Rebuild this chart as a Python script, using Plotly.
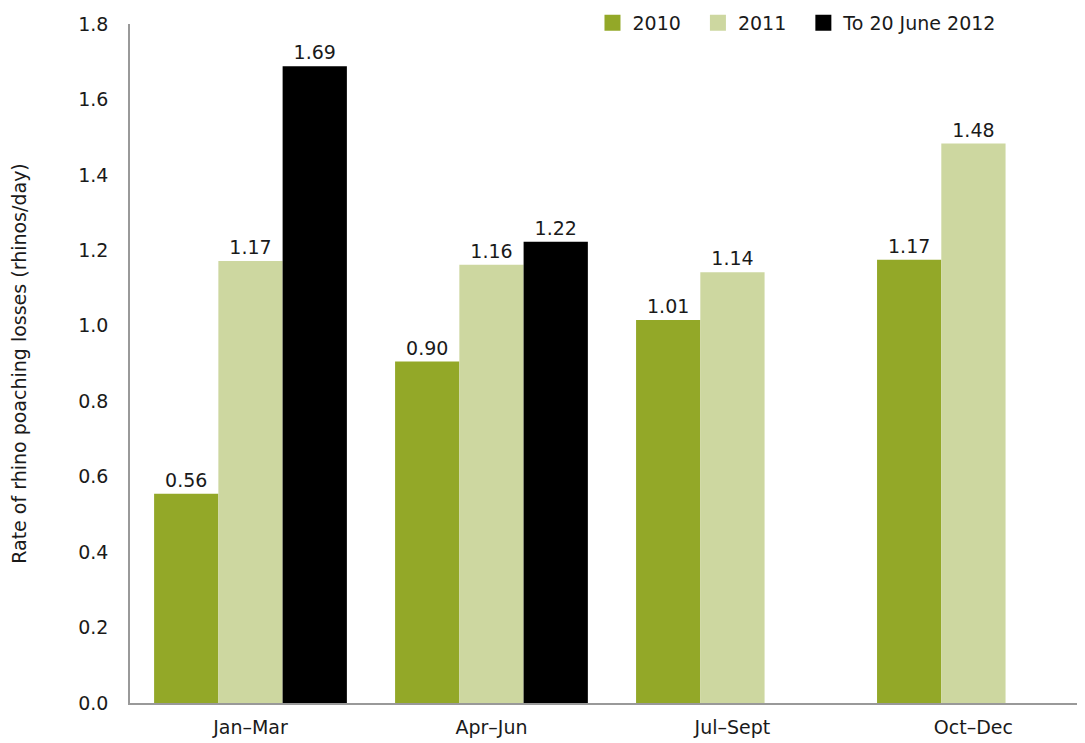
import plotly.graph_objects as go

categories = ["Jan–Mar", "Apr–Jun", "Jul–Sept", "Oct–Dec"]
series_names = ["2010", "2011", "To 20 June 2012"]
values_2010 = [0.555, 0.905, 1.015, 1.175]
values_2011 = [1.172, 1.162, 1.142, 1.483]
values_2012 = [1.688, 1.223, None, None]
labels_2010 = ["0.56", "0.90", "1.01", "1.17"]
labels_2011 = ["1.17", "1.16", "1.14", "1.48"]
labels_2012 = ["1.69", "1.22", "", ""]
colors = ["#93A828", "#CDD7A0", "#000000"]

font_family = "'DejaVu Sans', sans-serif"
text_color = "#1a1a1a"
fsize = 19
legend_pad = ["\u00a0\u00a0", "\u00a0\u00a0", ""]

fig = go.Figure()
for name, vals, labs, col in zip(series_names, [values_2010, values_2011, values_2012],
                                 [labels_2010, labels_2011, labels_2012], colors):
    fig.add_trace(go.Bar(
        x=categories, y=vals, name=name, marker=dict(color=col, line=dict(width=0)),
        text=labs, textposition="outside", cliponaxis=False, showlegend=False,
        textfont=dict(size=fsize, color=text_color, family=font_family),
    ))
# legend entries with larger square swatches
for name, col, pad in zip(series_names, colors, legend_pad):
    fig.add_trace(go.Scatter(
        x=[None], y=[None], mode="markers", name=name + pad,
        marker=dict(symbol="square", size=16, color=col, line=dict(width=0)),
    ))

# the page body adds an 8px offset, so the figure is sized to fit the window
fig.update_layout(
    width=1077, height=735,
    barmode="group", bargap=0.2, bargroupgap=0,
    plot_bgcolor="white", paper_bgcolor="white",
    margin=dict(l=122, r=0, t=16, b=40, autoexpand=False),
    font=dict(family=font_family, size=fsize, color=text_color),
    showlegend=True,
    legend=dict(orientation="h", xref="container", yref="container",
                x=0.5427, xanchor="left", y=0.9796, yanchor="middle",
                font=dict(size=fsize, color=text_color), itemwidth=30,
                traceorder="normal", bgcolor="rgba(0,0,0,0)", borderwidth=0),
    xaxis=dict(range=[-0.5, 3.463], showline=True, linecolor="#999999", linewidth=1.5,
               showgrid=False, ticks="", ticklabelstandoff=6,
               tickfont=dict(size=fsize, color=text_color)),
    yaxis=dict(range=[0, 1.8], dtick=0.2, tickformat=".1f", showline=True,
               linecolor="#999999", linewidth=1.5, showgrid=False, zeroline=False,
               ticks="", ticklabelstandoff=16, tickfont=dict(size=fsize, color=text_color),
               title=dict(text="Rate of rhino poaching losses (rhinos/day)",
                          font=dict(size=fsize, color=text_color), standoff=49)),
)

fig.write_html("out.html")
